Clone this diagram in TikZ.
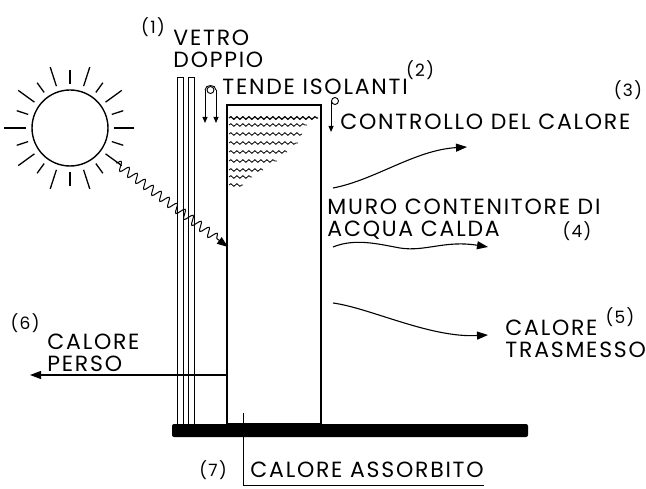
\documentclass[tikz,border=0pt]{standalone}
\usepackage{fontspec}
\setmainfont{Poppins}[LetterSpace=8]
\usetikzlibrary{arrows.meta,decorations.pathmorphing}

\begin{document}
\begin{tikzpicture}[
  x=1pt,y=-1pt,
  >={Triangle[length=11pt,width=8pt]},
  line width=0.9pt,
  every node/.style={font=\fontsize{22}{22}\selectfont,inner sep=0pt},
  label text/.style={anchor=west,align=left},
  num label/.style={font=\fontsize{17}{17}\selectfont},
  sun disc/.style={circle,draw,line width=1.4pt,minimum size=76pt},
  wall box/.style={rectangle,draw,line width=1.2pt,minimum width=94pt,minimum height=319pt},
  pulley/.style={circle,draw,line width=0.9pt,minimum size=7pt},
  small tip/.style={-{Triangle[length=6pt,width=5pt]}},
  heat/.style={->,line width=1.1pt},
  ray/.style={decorate,decoration={snake,amplitude=4.5pt,segment length=10pt,post length=11pt}},
  water/.style={decorate,decoration={snake,amplitude=1.3pt,segment length=6pt}},
]
\useasboundingbox (0,0) rectangle (646,489);

% sun and its rays
\node[sun disc] (sun) at (70,128) {};
\foreach \a/\l in {0/20,18/12,36/20,54/12,72/20,90/14,108/20,126/12,144/20,162/12,
                   180/22,198/12,216/20,234/12,252/20,270/14,288/20,306/12,324/20,342/12}
  \draw[line width=1.3pt] (sun.center) ++(\a:44) -- ++(\a:\l);

% double glazing and the water wall
\draw (177,77) rectangle (183,424);
\draw (188,77) rectangle (194,424);
\node[wall box] (wall) at (274,264.5) {};
\foreach \y/\e in {125/307,134/302,143/298,152/287,161/277,170/263,177/252,185/243}
  \draw[water,line width=0.8pt] (229,\y) -- (\e,\y);
\draw[water,line width=1.2pt] (229,118) -- (318,118);
\fill[rounded corners=2pt] (172,424) rectangle (528,437);

% insulating curtains and heat control
\node[pulley] (tpul) at (210.5,90) {};
\draw[small tip] (205,90) -- (205,123);
\draw[small tip] (216,90) -- (216,123);
\draw (205,90) .. controls (205,84) and (216,84) .. (216,90);
\node[pulley] (cpul) at (335,101) {};
\draw[small tip] (cpul.west) -- ++(0,31);

% solar gain through the glass
\coordinate (rayout) at (116,163);
\coordinate (hit) at (228,247);
\draw[ray,->,line width=1pt] (rayout) -- (hit);

% heat flows
\coordinate (h1a) at (333,188);
\coordinate (h1b) at (467,147);
\coordinate (h2a) at (333,247);
\coordinate (h2b) at (488,247);
\coordinate (h3a) at (333,303);
\coordinate (h3b) at (488,335);
\coordinate (lossa) at (227,375);
\coordinate (lossb) at (30,375);
\draw[heat] (h1a) .. controls (375,180) and (415,150) .. (h1b);
\draw[heat] (h2a) .. controls (355,238) and (378,244) .. (400,248)
            .. controls (425,252) and (445,240) .. (h2b);
\draw[heat] (h3a) .. controls (370,308) and (430,338) .. (h3b);
\draw[heat] (lossa) -- (lossb);

% labels
\node[num label] (n1) at (153,27) {(1)};
\node[label text] (glass) at (173,49) {VETRO\\DOPPIO};
\node[label text] (curtain) at (222,87) {TENDE ISOLANTI};
\node[num label] (n2) at (420,70) {(2)};
\node[num label] (n3) at (628,90) {(3)};
\node[label text] (control) at (340,122) {CONTROLLO DEL CALORE};
\node[label text] (wallname) at (327,219) {MURO CONTENITORE DI\\ACQUA CALDA};
\node[num label] (n4) at (577,231) {(4)};
\node[num label] (n5) at (620,317) {(5)};
\node[label text] (gain) at (505,339) {CALORE\\TRASMESSO};
\node[num label] (n6) at (25,323) {(6)};
\node[label text] (loss) at (47,353) {CALORE\\PERSO};
\node[num label] (n7) at (213,470) {(7)};
\node[label text] (absorb) at (250,470) {CALORE ASSORBITO};
\coordinate (leadtop) at (243,413);
\draw[line width=0.7pt] (leadtop) |- ([yshift=-15pt]absorb.east);
\end{tikzpicture}
\end{document}
